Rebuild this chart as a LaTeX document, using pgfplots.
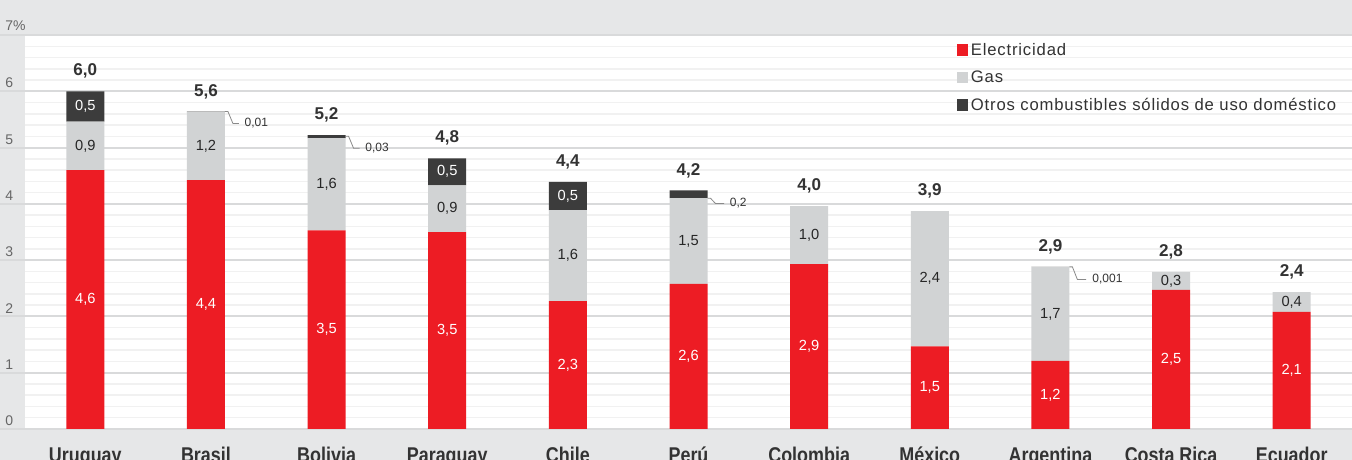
\documentclass[border=0pt]{standalone}
\usepackage{pgfplots}
\pgfplotsset{compat=1.18}
\usepackage{fontspec}
\setmainfont{Liberation Sans}
\newfontfamily\condb{Liberation Sans}[FakeStretch=0.84]
\newfontfamily\legf{Liberation Sans}[LetterSpace=5]
\definecolor{elec}{HTML}{ED1C24}
\definecolor{gasc}{HTML}{D1D3D4}
\definecolor{otro}{HTML}{3C3C3C}
\definecolor{bg}{HTML}{E6E7E8}
\definecolor{majg}{HTML}{D9DADB}
\definecolor{ming}{HTML}{F1F1F1}
\definecolor{txt}{HTML}{333333}
\definecolor{tickc}{HTML}{666666}
\definecolor{lead}{HTML}{8A8A8A}
\begin{document}
\begin{tikzpicture}
\fill[bg] (0,0) rectangle (1014pt,345pt);
\useasboundingbox (0,0) rectangle (1014pt,345pt);
\pgfplotsset{myaxis/.style={at={(18.75pt,23.25pt)}, anchor=south west, scale only axis,
  width=995.25pt, height=295.5pt, xmin=-0.5, xmax=10.5, ymin=0, ymax=7, clip=false}}
\begin{axis}[myaxis,
  axis background/.style={fill=white},
  axis line style={draw=none},
  ybar stacked, bar width=28.5pt,
  ytick={0,...,7}, minor y tick num=4, yticklabels={},
  ymajorgrids, yminorgrids,
  major grid style={majg, line width=1.5pt},
  minor grid style={ming, line width=1.1pt},
  xtick={0,...,10},
  xticklabels={Uruguay,Brasil,Bolivia,Paraguay,Chile,Perú,Colombia,México,Argentina,Costa Rica,Ecuador},
  xticklabel style={font=\condb\bfseries\fontsize{16}{16}\selectfont, text=txt, anchor=base, yshift=-24.75pt},
  major tick length=0pt, minor tick length=0pt,
  legend style={at={(rel axis cs:0.699,0.993)}, anchor=north west, draw=none, fill=none,
    font=\legf\fontsize{12.5}{13}\selectfont, text=txt, row sep=6.2pt, cells={anchor=west}},
  legend image code/.code={\fill[#1] (0pt,-4pt) rectangle (8.5pt,4.5pt);},
]
\addplot[fill=elec, draw=none] coordinates {(0,4.6) (1,4.42) (2,3.53) (3,3.5) (4,2.27) (5,2.58) (6,2.93) (7,1.47) (8,1.21) (9,2.47) (10,2.08)};
\addplot[fill=gasc, draw=none] coordinates {(0,0.86) (1,1.21) (2,1.64) (3,0.83) (4,1.62) (5,1.52) (6,1.03) (7,2.40) (8,1.67) (9,0.32) (10,0.35)};
\addplot[fill=otro, draw=none] coordinates {(0,0.54) (1,0.01) (2,0.05) (3,0.48) (4,0.50) (5,0.14) (6,0) (7,0) (8,0.001) (9,0) (10,0)};
\legend{Electricidad,Gas,Otros combustibles sólidos de uso doméstico}
\pgfplotsinvokeforeach{0,...,6}{
  \draw[majg, line width=1.5pt] (axis cs:-0.5,#1) -- ++(-18.75pt,0pt);
  \node[anchor=south west, inner sep=0pt, text=tickc, font=\fontsize{10.5}{11}\selectfont] at ([xshift=-15pt,yshift=2.2pt]axis cs:-0.5,#1) {#1};
}
\draw[majg, line width=1.5pt] (axis cs:-0.5,7) -- ++(-18.75pt,0pt);
\node[anchor=south west, inner sep=0pt, text=tickc, font=\fontsize{10.5}{11}\selectfont] at ([xshift=-15pt,yshift=3pt]axis cs:-0.5,7) {7\%};
\end{axis}
\begin{axis}[myaxis, hide axis]
% totals
\addplot[draw=none, mark=none, nodes near coords, point meta=explicit symbolic,
  every node near coord/.style={anchor=base, inner sep=0pt, yshift=11.5pt, text=txt, font=\bfseries\fontsize{12.8}{13}\selectfont}]
  coordinates {(0,6.0)[6,0] (1,5.64)[5,6] (2,5.22)[5,2] (3,4.81)[4,8] (4,4.39)[4,4] (5,4.24)[4,2] (6,3.96)[4,0] (7,3.87)[3,9] (8,2.88)[2,9] (9,2.79)[2,8] (10,2.43)[2,4]};
% electricity labels
\addplot[draw=none, mark=none, nodes near coords, point meta=explicit symbolic,
  every node near coord/.style={anchor=center, text=white, font=\fontsize{11}{12}\selectfont}]
  coordinates {(0,2.3)[4,6] (1,2.21)[4,4] (2,1.765)[3,5] (3,1.75)[3,5] (4,1.135)[2,3] (5,1.29)[2,6] (6,1.465)[2,9] (7,0.735)[1,5] (8,0.605)[1,2] (9,1.235)[2,5] (10,1.04)[2,1]};
% gas labels
\addplot[draw=none, mark=none, nodes near coords, point meta=explicit symbolic,
  every node near coord/.style={anchor=center, text=black!85, font=\fontsize{11}{12}\selectfont}]
  coordinates {(0,5.03)[0,9] (1,5.025)[1,2] (2,4.35)[1,6] (3,3.915)[0,9] (4,3.08)[1,6] (5,3.34)[1,5] (6,3.445)[1,0] (7,2.67)[2,4] (8,2.045)[1,7] (9,2.63)[0,3] (10,2.255)[0,4]};
% other labels
\addplot[draw=none, mark=none, nodes near coords, point meta=explicit symbolic,
  every node near coord/.style={anchor=center, text=white, font=\fontsize{11}{12}\selectfont}]
  coordinates {(0,5.73)[0,5] (3,4.57)[0,5] (4,4.14)[0,5]};
% callouts
\tikzset{co/.style={anchor=west, inner sep=0pt, text=txt, font=\fontsize{9}{9}\selectfont}}
\draw[lead, line width=0.6pt] ([xshift=14.25pt]axis cs:1,5.64) -- ([xshift=16.5pt]axis cs:1,5.64) -- ([xshift=20.25pt,yshift=-9pt]axis cs:1,5.64) -- ([xshift=24.75pt,yshift=-9pt]axis cs:1,5.64) node[co, xshift=4pt]{0,01};
\draw[lead, line width=0.6pt] ([xshift=14.25pt]axis cs:2,5.20) -- ([xshift=16.5pt]axis cs:2,5.20) -- ([xshift=20.25pt,yshift=-9pt]axis cs:2,5.20) -- ([xshift=24.75pt,yshift=-9pt]axis cs:2,5.20) node[co, xshift=4pt]{0,03};
\draw[lead, line width=0.6pt] ([xshift=14.25pt]axis cs:5,4.10) -- ([xshift=16.5pt]axis cs:5,4.10) -- ([xshift=20.25pt,yshift=-4pt]axis cs:5,4.10) -- ([xshift=26.75pt,yshift=-4pt]axis cs:5,4.10) node[co, xshift=4pt]{0,2};
\draw[lead, line width=0.6pt] ([xshift=14.25pt]axis cs:8,2.88) -- ([xshift=16.5pt]axis cs:8,2.88) -- ([xshift=20.25pt,yshift=-9.5pt]axis cs:8,2.88) -- ([xshift=26.75pt,yshift=-9.5pt]axis cs:8,2.88) node[co, xshift=4.5pt]{0,001};
\end{axis}
\end{tikzpicture}
\end{document}
